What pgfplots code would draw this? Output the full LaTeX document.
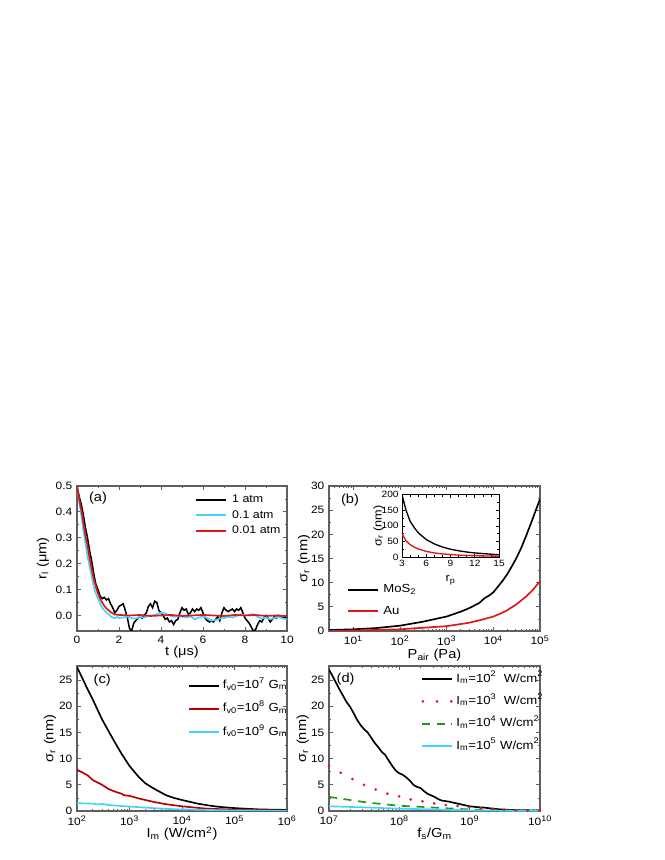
\documentclass[border=0pt]{standalone}
\usepackage{fontspec}
\setmainfont{Liberation Sans}[FakeStretch=1.12]
\usepackage{pgfplots}
\pgfplotsset{compat=1.18}
\definecolor{axcol}{RGB}{95,95,95}
\definecolor{mycyan}{RGB}{70,210,255}
\definecolor{myred}{RGB}{222,22,22}
\definecolor{mydred}{RGB}{185,0,0}
\definecolor{mygreen}{RGB}{30,150,30}
\pgfplotsset{
  common/.style={
    scale only axis, anchor=south west,
    axis line style={axcol, line width=0.9pt},
    every tick/.style={axcol, line width=0.6pt},
    major tick length=3pt, minor tick length=1.8pt,
    tick align=inside,
    ticklabel style={font=\fontsize{8}{9}\selectfont},
    /pgf/number format/assume math mode=true,
    label style={font=\fontsize{9.8}{11}\selectfont},
    legend cell align=left,
    legend image code/.code={\draw[##1,line width=1.5pt] (0pt,0pt) -- (22.5pt,0pt);},
  },
}
\begin{document}
\begin{tikzpicture}
\path[use as bounding box] (0,0) rectangle (498pt,645pt);

% ---------------- (a)
\begin{axis}[common, at={(57.75pt,171.75pt)}, width=157.5pt, height=108.75pt,
  xmin=0, xmax=10, ymin=-0.06, ymax=0.5,
  xtick={0,2,4,6,8,10}, minor x tick num=1,
  ytick={0,0.1,0.2,0.3,0.4,0.5}, minor y tick num=1,
  yticklabel style={/pgf/number format/.cd,fixed,fixed zerofill,precision=1},
  xlabel={t (μs)}, ylabel={r\textsubscript{l} (μm)},
  xlabel style={at={(axis description cs:0.5,-0.172)}, anchor=base},
  ylabel style={at={(axis description cs:-0.162,0.5)}, anchor=center},
  legend style={at={(axis description cs:0.56,0.945)}, anchor=north west, draw=none, fill=none,
    inner sep=0pt, row sep=3pt, column sep=3.5pt, font=\fontsize{8.3}{9}\selectfont,
    nodes={inner sep=0.5pt, text height=6pt, text depth=1.5pt}},
]
\addplot[black, line width=1.15pt] coordinates {
(0,0.50)(0.1,0.46)(0.2,0.43)(0.3,0.39)(0.4,0.34)(0.5,0.30)(0.6,0.25)(0.7,0.21)(0.8,0.16)(0.9,0.12)
(1.0,0.10)(1.1,0.075)(1.2,0.065)(1.3,0.07)(1.4,0.06)(1.5,0.065)(1.6,0.045)(1.7,0.03)(1.8,0.01)(1.9,0.02)
(2.0,0.035)(2.1,0.04)(2.2,0.045)(2.3,0.02)(2.4,-0.01)(2.5,-0.05)(2.6,-0.06)(2.7,-0.03)(2.8,-0.02)(2.9,-0.01)
(3.0,-0.005)(3.1,-0.01)(3.2,0.0)(3.3,0.01)(3.4,0.035)(3.5,0.045)(3.6,0.03)(3.7,0.055)(3.8,0.05)(3.9,0.02)
(4.0,0.01)(4.1,0.0)(4.2,-0.015)(4.3,-0.01)(4.4,-0.025)(4.5,-0.02)(4.6,-0.035)(4.7,-0.02)(4.8,-0.015)(4.9,0.01)
(5.0,0.03)(5.1,0.02)(5.2,0.025)(5.3,0.005)(5.4,0.01)(5.5,0.025)(5.6,0.015)(5.7,0.025)(5.8,0.02)(5.9,0.03)
(6.0,0.01)(6.1,-0.01)(6.2,-0.02)(6.3,-0.025)(6.4,-0.02)(6.5,-0.025)(6.6,-0.015)(6.7,-0.005)(6.8,-0.02)(6.9,0.01)
(7.0,0.03)(7.1,0.02)(7.2,0.015)(7.3,0.02)(7.4,0.025)(7.5,0.015)(7.6,0.025)(7.7,0.02)(7.8,0.03)(7.9,0.01)
(8.0,-0.01)(8.1,-0.02)(8.2,-0.03)(8.3,-0.045)(8.4,-0.06)(8.5,-0.055)(8.6,-0.035)(8.7,-0.02)(8.8,-0.025)(8.9,-0.01)
(9.0,0.0)(9.1,-0.01)(9.2,-0.025)(9.3,-0.015)(9.4,-0.005)(9.5,-0.01)(9.6,0.0)(9.7,-0.005)(9.8,-0.01)(9.9,-0.005)(10.0,-0.01)
};
\addlegendentry{1 atm}
\addplot[mycyan, line width=1.25pt] coordinates {
(0,0.50)(0.1,0.44)(0.2,0.39)(0.3,0.33)(0.4,0.28)(0.5,0.23)(0.6,0.19)(0.7,0.15)(0.8,0.11)(0.9,0.085)
(1.0,0.065)(1.1,0.045)(1.2,0.03)(1.3,0.02)(1.4,0.01)(1.5,0.005)(1.6,-0.003)(1.7,-0.008)(1.8,-0.01)(1.9,-0.006)
(2.0,-0.01)(2.2,-0.008)(2.4,-0.005)(2.6,-0.01)(2.8,-0.012)(3.0,-0.005)(3.2,-0.008)(3.4,-0.002)(3.6,0.0)(3.8,0.005)
(4.0,0.01)(4.2,0.008)(4.4,0.0)(4.6,-0.005)(4.8,-0.002)(5.0,-0.004)(5.2,-0.008)(5.4,-0.003)(5.6,-0.015)(5.8,-0.008)
(6.0,-0.004)(6.2,-0.01)(6.4,-0.02)(6.6,-0.018)(6.8,-0.012)(7.0,-0.01)(7.2,-0.005)(7.4,-0.008)(7.6,-0.002)(7.8,0.005)
(8.0,0.0)(8.2,0.003)(8.4,0.005)(8.6,-0.005)(8.8,-0.012)(9.0,-0.008)(9.2,-0.015)(9.4,-0.01)(9.6,-0.005)(9.8,-0.012)(10,-0.015)
};
\addlegendentry{0.1 atm}
\addplot[myred, line width=1.25pt] coordinates {
(0,0.5)(0.1,0.45)(0.2,0.41)(0.3,0.36)(0.4,0.31)(0.5,0.27)(0.6,0.22)(0.7,0.18)(0.8,0.14)(0.9,0.11)
(1.0,0.085)(1.1,0.065)(1.2,0.05)(1.3,0.037)(1.4,0.027)(1.5,0.02)(1.6,0.013)(1.7,0.008)(1.8,0.004)(2.0,0.002)
(2.5,0.0)(3,0.002)(3.5,-0.002)(4,0.0)(4.5,0.002)(5,-0.002)(5.5,0.0)(6,0.002)(6.5,0.0)(7,-0.002)(7.5,0.002)
(8,0.0)(8.5,0.002)(9,-0.002)(9.5,0.0)(10,-0.003)
};
\addlegendentry{0.01 atm}
\node[anchor=west, font=\fontsize{9.8}{11}\selectfont] at (axis description cs:0.035,0.915) {(a)};
\end{axis}

% ---------------- (b)
\begin{axis}[common, at={(246.75pt,171.75pt)}, width=158.25pt, height=108.75pt,
  xmode=log, xmin=3, xmax=1e5, ymin=0, ymax=30,
  xtick={10,100,1000,10000,100000},
  xticklabels={10\textsuperscript{1},10\textsuperscript{2},10\textsuperscript{3},10\textsuperscript{4},10\textsuperscript{5}},
  minor xtick={3,4,5,6,7,8,9,20,30,40,50,60,70,80,90,200,300,400,500,600,700,800,900,2000,3000,4000,5000,6000,7000,8000,9000,20000,30000,40000,50000,60000,70000,80000,90000},
  ytick={0,5,10,15,20,25,30}, minor y tick num=1,
  xlabel={P\textsubscript{air} (Pa)}, ylabel={σ\textsubscript{r} (nm)},
  xlabel style={at={(axis description cs:0.5,-0.19)}, anchor=base},
  ylabel style={at={(axis description cs:-0.118,0.5)}, anchor=center},
  legend style={at={(axis description cs:0.083,0.33)}, anchor=north west, draw=none, fill=none,
    inner sep=0pt, row sep=6pt, column sep=3pt, font=\fontsize{8.8}{10}\selectfont,
    nodes={inner sep=0.5pt, text height=6.5pt, text depth=2.5pt}},
]
\addplot[black, line width=1.25pt] coordinates {
(3,0.2)(10,0.35)(30,0.6)(100,1.1)(300,1.9)(1000,3.0)(2000,4.0)(3000,4.7)(5000,5.8)(6500,6.8)(8000,7.3)
(10000,8.0)(12600,9.2)(15800,10.4)(20000,11.8)(25000,13.4)(31600,15.2)(40000,17.3)(50000,19.6)(63000,22.1)(80000,24.8)(100000,27.3)
};
\addlegendentry{MoS\textsubscript{2}}
\addplot[myred, line width=1.25pt] coordinates {
(3,0.05)(10,0.1)(100,0.35)(1000,1.0)(3000,1.7)(6000,2.4)(10000,3.0)(15000,3.7)(20000,4.3)(22000,4.6)(30000,5.4)(50000,7.1)(70000,8.5)(100000,10.3)
};
\addlegendentry{Au}
\node[anchor=west, font=\fontsize{9.8}{11}\selectfont] at (axis description cs:0.035,0.905) {(b)};
\end{axis}

% inset
\begin{axis}[common, at={(301.5pt,227.25pt)}, width=72.75pt, height=46.7pt,
  xmin=3, xmax=15, ymin=0, ymax=200,
  xtick={3,6,9,12,15}, minor x tick num=2,
  ytick={0,50,100,150,200}, minor y tick num=1,
  major tick length=2.5pt, minor tick length=1.5pt,
  axis line style={black, line width=0.6pt}, every tick/.style={black, line width=0.5pt},
  ticklabel style={font=\fontsize{6.8}{7.5}\selectfont},
  label style={font=\fontsize{8.5}{10}\selectfont},
  xticklabel style={yshift=1pt}, yticklabel style={xshift=1pt},
  xlabel={r\textsubscript{p}}, ylabel={σ\textsubscript{r} (nm)},
  xlabel style={at={(axis description cs:0.5,-0.40)}, anchor=base},
  ylabel style={at={(axis description cs:-0.24,0.5)}, anchor=center},
]
\addplot[black, line width=1.0pt] coordinates {
(3,200)(3.5,150)(4,115)(4.5,95)(5,78)(6,56)(7,42)(8,32)(9,25)(10,20)(11,16)(12,13)(13,11)(14,9)(15,7)
};
\addplot[myred, line width=1.0pt] coordinates {
(3,75)(3.5,52)(4,40)(4.5,32)(5,26)(6,18)(7,13)(8,10)(9,8)(10,6)(12,4)(15,2.5)
};
\end{axis}

% ---------------- (c)
\begin{axis}[common, at={(57.75pt,36.75pt)}, width=157.5pt, height=108.75pt,
  xmode=log, xmin=100, xmax=1e6, ymin=0, ymax=27.7,
  xtick={100,1000,10000,100000,1000000},
  xticklabels={10\textsuperscript{2},10\textsuperscript{3},10\textsuperscript{4},10\textsuperscript{5},10\textsuperscript{6}},
  minor xtick={200,300,400,500,600,700,800,900,2000,3000,4000,5000,6000,7000,8000,9000,20000,30000,40000,50000,60000,70000,80000,90000,200000,300000,400000,500000,600000,700000,800000,900000},
  ytick={0,5,10,15,20,25}, minor y tick num=1,
  xlabel={I\textsubscript{m} (W/cm\textsuperscript{2})}, ylabel={σ\textsubscript{r} (nm)},
  xlabel style={at={(axis description cs:0.5,-0.186)}, anchor=base},
  ylabel style={at={(axis description cs:-0.129,0.5)}, anchor=center},
  legend style={at={(axis description cs:0.525,0.915)}, anchor=north west, draw=none, fill=none,
    inner sep=0pt, row sep=7pt, column sep=2pt, font=\fontsize{8.8}{10}\selectfont,
    nodes={inner sep=0.5pt, text height=7pt, text depth=2.5pt}},
]
\addplot[black, line width=1.25pt] coordinates {
(100,27.5)(150,23.8)(200,21.3)(300,17.5)(500,13.5)(700,11.0)(1000,8.6)(1500,6.5)(2000,5.3)(3000,4.2)
(5000,3.0)(7000,2.5)(10000,2.1)(20000,1.4)(30000,1.1)(50000,0.8)(100000,0.55)(300000,0.3)(1000000,0.2)
};
\addlegendentry{f\textsubscript{v0}=10\textsuperscript{7} G\textsubscript{m}}
\addplot[mydred, line width=1.25pt] coordinates {
(100,7.9)(130,7.3)(160,6.8)(200,5.9)(250,5.4)(300,5.0)(400,4.2)(500,3.8)(700,3.3)(800,3.0)(1000,2.9)
(1500,2.4)(2000,2.1)(3000,1.7)(5000,1.3)(10000,0.9)(20000,0.6)(30000,0.45)(100000,0.25)(1000000,0.05)
};
\addlegendentry{f\textsubscript{v0}=10\textsuperscript{8} G\textsubscript{m}}
\addplot[mycyan, line width=1.25pt] coordinates {
(100,1.5)(200,1.4)(250,1.25)(300,1.35)(400,1.15)(600,1.0)(1000,0.85)(2000,0.65)(5000,0.4)(10000,0.3)(100000,0.1)(1000000,0.05)
};
\addlegendentry{f\textsubscript{v0}=10\textsuperscript{9} G\textsubscript{m}}
\node[anchor=west, font=\fontsize{9.8}{11}\selectfont] at (axis description cs:0.057,0.903) {(c)};
\end{axis}

% ---------------- (d)
\begin{axis}[common, at={(246.75pt,36.75pt)}, width=158.25pt, height=108.75pt,
  xmode=log, xmin=1e7, xmax=1e10, ymin=0, ymax=27.7,
  xtick={1e7,1e8,1e9,1e10},
  xticklabels={10\textsuperscript{7},10\textsuperscript{8},10\textsuperscript{9},10\textsuperscript{10}},
  minor xtick={2e7,3e7,4e7,5e7,6e7,7e7,8e7,9e7,2e8,3e8,4e8,5e8,6e8,7e8,8e8,9e8,2e9,3e9,4e9,5e9,6e9,7e9,8e9,9e9},
  ytick={0,5,10,15,20,25}, minor y tick num=1,
  xlabel={f\textsubscript{s}/G\textsubscript{m}}, ylabel={σ\textsubscript{r} (nm)},
  xlabel style={at={(axis description cs:0.5,-0.186)}, anchor=base},
  ylabel style={at={(axis description cs:-0.124,0.5)}, anchor=center},
  legend style={at={(axis description cs:0.435,0.96)}, anchor=north west, draw=none, fill=none,
    inner sep=0pt, row sep=6.25pt, column sep=2pt, font=\fontsize{8.8}{10}\selectfont,
    nodes={inner sep=0.5pt, text height=7pt, text depth=2.5pt}},
]
\addplot[black, line width=1.25pt] coordinates {
(1e7,27.0)(1.122e7,25.8)(1.259e7,24.5)(1.413e7,23.2)(1.585e7,22.0)(1.778e7,20.8)(1.995e7,19.9)(2.239e7,18.7)
(2.512e7,17.4)(2.818e7,16.4)(3.162e7,15.6)(3.548e7,15.0)(3.981e7,14.0)(4.467e7,13.0)(5.012e7,12.2)(5.623e7,11.3)
(6.310e7,10.7)(7.079e7,9.6)(7.943e7,8.6)(8.913e7,7.7)(1e8,7.2)(1.122e8,6.9)(1.259e8,6.4)(1.413e8,5.8)
(1.585e8,5.0)(1.778e8,4.6)(1.995e8,4.4)(2.239e8,3.8)(2.512e8,3.3)(2.818e8,3.0)(3.162e8,2.7)(3.548e8,2.3)
(3.981e8,2.0)(5.012e8,1.8)(6.310e8,1.5)(7.943e8,1.2)(1e9,0.9)(1.259e9,0.75)(1.585e9,0.65)(1.995e9,0.5)
(2.512e9,0.35)(3.162e9,0.25)(5.012e9,0.15)(1e10,0.1)
};
\addlegendentry{I\textsubscript{m}=10\textsuperscript{2}\ \ W/cm\textsuperscript{2}}
\addplot[myred, only marks, mark=*, mark size=0.8pt,
  legend image code/.code={\fill[myred] (0.6pt,0pt) circle (0.8pt) (11.25pt,0pt) circle (0.8pt) (21.9pt,0pt) circle (0.8pt);}]
  coordinates {
(1e7,8.6)(1.466e7,7.3)(2.15e7,6.1)(3.15e7,5.0)(4.62e7,4.1)(6.76e7,3.3)(9.92e7,2.8)(1.45e8,2.2)(2.13e8,1.85)
(3.13e8,1.45)(4.57e8,1.15)(6.71e8,0.95)(9.84e8,0.75)(1.44e9,0.55)(2.11e9,0.4)(3.1e9,0.25)(4.54e9,0.15)(6.66e9,0.1)(9.77e9,0.08)
};
\addlegendentry{I\textsubscript{m}=10\textsuperscript{3}\ \ W/cm\textsuperscript{2}}
\addplot[mygreen, line width=1.25pt, dash pattern=on 6pt off 5pt] coordinates {
(1e7,2.7)(2e7,2.1)(3.16e7,1.7)(5e7,1.4)(1e8,1.0)(2e8,0.8)(3.16e8,0.65)(5e8,0.5)(1e9,0.3)(2e9,0.15)(5e9,0.07)(1e10,0.04)
};
\addlegendentry{I\textsubscript{m}=10\textsuperscript{4} W/cm\textsuperscript{2}}
\addplot[mycyan, line width=1.25pt] coordinates {
(1e7,0.9)(3e7,0.7)(1e8,0.45)(3e8,0.3)(1e9,0.12)(3e9,0.06)(1e10,0.04)
};
\addlegendentry{I\textsubscript{m}=10\textsuperscript{5} W/cm\textsuperscript{2}}
\node[anchor=west, font=\fontsize{9.8}{11}\selectfont] at (axis description cs:0.014,0.91) {(d)};
\end{axis}
\end{tikzpicture}
\end{document}
